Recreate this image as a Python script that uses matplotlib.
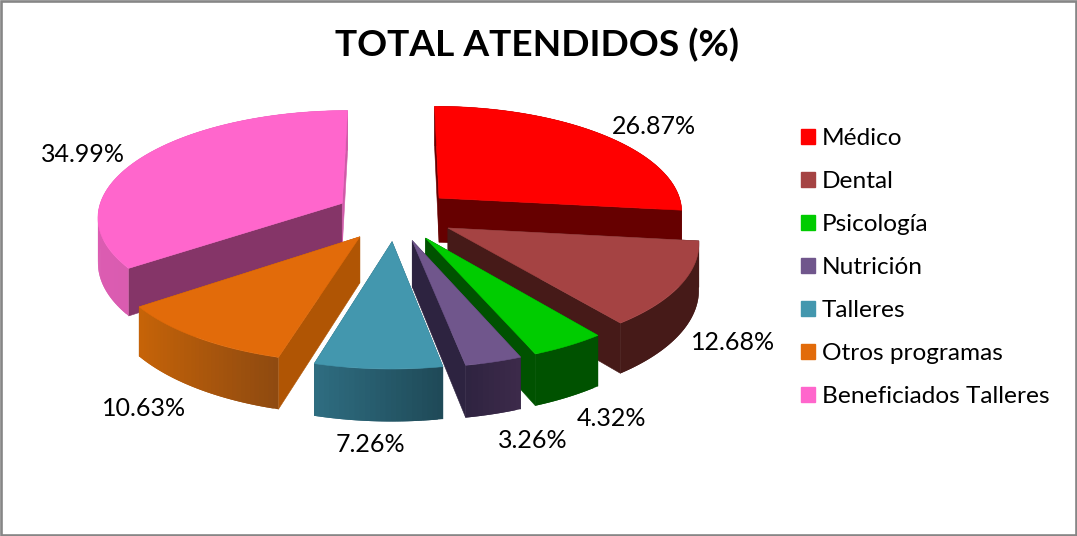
# total_atendidos.py
import numpy as np
import matplotlib
matplotlib.use('Agg')
import matplotlib.pyplot as plt
from matplotlib.patches import Patch, Polygon, Rectangle

categories = ['Médico', 'Dental', 'Psicología', 'Nutrición', 'Talleres', 'Otros programas', 'Beneficiados Talleres']
values = [26.87, 12.68, 4.32, 3.26, 7.26, 10.63, 34.99]

top_colors = ['#FF0000', '#A54343', '#00CC00', '#70568C', '#4397AE', '#E26B0A', '#FF66CC']
side_colors = ['#660000', '#461A18', '#005200', '#2D2340', '#2A5A6B', '#B05504', '#853568']
rim_left = ['#660000', '#461A18', '#005200', '#2E2340', '#2F6E82', '#C76408', '#DC5CB2']
rim_right = ['#660000', '#461A18', '#005200', '#3C2A4A', '#1F4A58', '#8F4A10', '#D05AA8']

# label centres in pixels, same order as the categories
label_pos = [(654, 127), (733, 343), (611, 419), (533, 441), (370, 445), (144, 408), (83, 155)]

CX, CY = 395, 215
FX, FY = 245, 106
PERSP = 0.115
EXPLODE = 0.245
HEIGHT = 45


def project(x, y, z=0.0):
    # y points to the viewer, z is up
    w = 1 - PERSP * y
    return CX + FX * x / w, CY + FY * y / w - HEIGHT * z / w


def mix(c1, c2, t):
    a = np.array(matplotlib.colors.to_rgb(c1))
    b = np.array(matplotlib.colors.to_rgb(c2))
    return tuple(a + (b - a) * t)


def draw_slice(ax, start, end, top, side, left, right):
    mid = (start + end) / 2
    ox, oy = EXPLODE * np.sin(mid), -EXPLODE * np.cos(mid)
    angles = np.linspace(start, end, max(int(np.degrees(end - start)), 6))
    xs = ox + np.sin(angles)
    ys = oy - np.cos(angles)

    # radial walls first, the rim and the top go over them
    for a in (start, end):
        rx, ry = ox + np.sin(a), oy - np.cos(a)
        wall = [project(ox, oy), project(rx, ry), project(rx, ry, -1), project(ox, oy, -1)]
        # the wall at twelve o'clock is lit like the rim
        c = right if np.cos(a) > 0.95 else side
        ax.add_patch(Polygon(wall, closed=True, facecolor=c, edgecolor=c, lw=0.4))

    # rim strips overlap by one step, otherwise the seams show
    n = len(xs)
    x_min, x_max = xs.min(), xs.max()
    for i in range(n - 1):
        j = min(i + 2, n - 1)
        sx, sy = xs[i:j + 1], ys[i:j + 1]
        strip = [project(x, y) for x, y in zip(sx, sy)] + [project(x, y, -1) for x, y in zip(sx[::-1], sy[::-1])]
        t = (xs[i] - x_min) / max(x_max - x_min, 1e-6)
        c = mix(left, right, t)
        ax.add_patch(Polygon(strip, closed=True, facecolor=c, edgecolor='none', lw=0))

    face = [project(ox, oy)] + [project(x, y) for x, y in zip(xs, ys)]
    ax.add_patch(Polygon(face, closed=True, facecolor=top, edgecolor=top, lw=0.4))


def main():
    plt.rcParams['font.family'] = ['Lato', 'DejaVu Sans']
    fig = plt.figure(figsize=(10.77, 5.36), dpi=100)
    ax = fig.add_axes([0, 0, 1, 1])
    ax.set_xlim(0, 1077)
    ax.set_ylim(536, 0)
    ax.axis('off')

    ax.add_patch(Rectangle((1.2, 0.8), 1074.4, 534, facecolor='white', edgecolor='#868686', lw=1.9))

    fracs = np.array(values) / sum(values)
    bounds = np.concatenate([[0], np.cumsum(fracs)]) * 2 * np.pi

    # back slices first
    for i in [6, 0, 1, 5, 2, 3, 4]:
        draw_slice(ax, bounds[i], bounds[i + 1], top_colors[i], side_colors[i], rim_left[i], rim_right[i])

    for v, (x, y) in zip(values, label_pos):
        ax.text(x, y, f'{v:.2f}%', ha='center', va='center', fontsize=18, color='black')

    ax.text(537, 45, 'TOTAL ATENDIDOS (%)', ha='center', va='center', fontsize=26.7, fontweight='bold', color='black')

    handles = [Patch(facecolor=c, edgecolor=c, label=n) for c, n in zip(top_colors, categories)]
    ax.legend(handles=handles, loc='upper left', bbox_to_anchor=(801, 128), bbox_transform=ax.transData,
              frameon=False, fontsize=17.6, labelspacing=0.9, handlelength=0.56, handleheight=0.56,
              handletextpad=0.3, borderpad=0, borderaxespad=0)

    fig.savefig('out.png', dpi=100)


if __name__ == '__main__':
    main()
